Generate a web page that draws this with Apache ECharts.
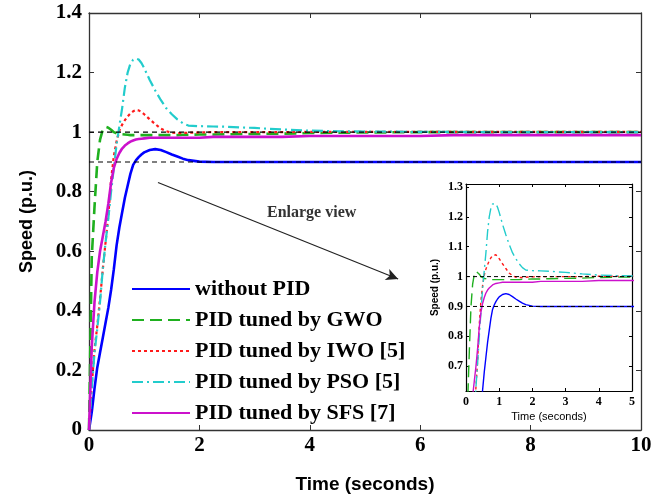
<!DOCTYPE html>
<html><head><meta charset="utf-8">
<script src="https://cdn.jsdelivr.net/npm/echarts@6/dist/echarts.min.js"></script>
<style>html,body{margin:0;padding:0;background:#fff}#c{width:665px;height:499px}</style>
</head><body><div id="c"></div>
<script>
const time = [0,0.05,0.1,0.15,0.2,0.25,0.3,0.35,0.4,0.45,0.5,0.55,0.6,0.65,0.7,0.75,0.8,0.85,0.9,0.95,1.0,1.1,1.2,1.3,1.4,1.5,1.6,1.7,1.8,2.0,2.25,2.5,3.0,3.5,4.0,4.5,5.0,6.0,6.6,7.0,8.0,9.0,10.0];
const withoutPID = [0,0.06,0.14,0.21,0.26,0.31,0.36,0.41,0.47,0.54,0.62,0.68,0.73,0.78,0.82,0.86,0.89,0.905,0.916,0.925,0.932,0.94,0.943,0.94,0.933,0.925,0.918,0.911,0.906,0.901,0.9,0.9,0.9,0.9,0.9,0.9,0.9,0.9,0.9,0.9,0.9,0.9,0.9];
const gwo = [0,0.58,0.75,0.9,0.975,1.008,1.018,1.015,1.008,1.0,0.996,0.994,0.993,0.992,0.991,0.99,0.99,0.99,0.99,0.99,0.99,0.99,0.99,0.99,0.99,0.99,0.99,0.991,0.991,0.992,0.992,0.993,0.994,0.995,0.997,0.998,0.999,1.0,1.0,1.0,1.0,1.0,1.0];
const iwo = [0,0.15,0.27,0.35,0.44,0.54,0.63,0.72,0.84,0.92,0.97,1.005,1.025,1.04,1.053,1.063,1.07,1.074,1.073,1.068,1.06,1.043,1.027,1.012,1.003,0.998,0.997,0.997,0.998,0.999,1.0,1.0,1.0,1.0,1.001,1.001,1.001,1.001,1.001,1.001,1.001,1.001,1.001];
const pso = [0,0.14,0.26,0.34,0.43,0.54,0.63,0.71,0.8,0.88,0.96,1.02,1.08,1.15,1.2,1.23,1.243,1.247,1.244,1.232,1.215,1.175,1.14,1.108,1.08,1.06,1.043,1.03,1.022,1.02,1.019,1.018,1.014,1.009,1.005,1.003,1.002,1.001,1.001,1.0,1.0,1.0,1.0];
const sfs = [0,0.28,0.43,0.53,0.6,0.65,0.7,0.76,0.83,0.88,0.91,0.93,0.945,0.955,0.962,0.968,0.972,0.975,0.977,0.978,0.979,0.981,0.981,0.981,0.981,0.981,0.981,0.981,0.981,0.981,0.984,0.984,0.984,0.984,0.987,0.987,0.987,0.987,0.99,0.99,0.99,0.99,0.99];
const refLevels = [1.0, 0.9];
const seriesNames = ['without PID','PID tuned by GWO','PID tuned by IWO [5]','PID tuned by PSO [5]','PID tuned by SFS [7]'];
const insetYTicks = [0.7,0.8,0.9,1.0,1.1,1.2,1.3];

const pairs = arr => time.map((t,i)=>[t,arr[i]]);
const serif = 'Liberation Serif';
const sans = 'Liberation Sans';
const styles = [
  {color:'#0000ff', type:'solid', w:2.6, wi:1.4},
  {color:'#1fb01f', type:[12,6], w:2.6, wi:1.4},
  {color:'#ff1a1a', type:[3,3], w:2.2, wi:1.4},
  {color:'#22cccc', type:[11,4,2,4], w:2.2, wi:1.4},
  {color:'#cc11cc', type:'solid', w:2.6, wi:1.4}
];
const dataSets = [withoutPID, gwo, iwo, pso, sfs];

function ax(grid, pos, show, extra, inset){
  const col = inset ? '#000' : '#333';
  return Object.assign({type:'value', gridIndex:grid, position:pos,
    axisLine:{show:true, onZero:false, lineStyle:{color:col, width:inset?1.2:1.3}},
    splitLine:{show:false},
    axisTick:{show:true, inside:true, length:inset?3:5, lineStyle:{color:col}},
    axisLabel:{show:show}}, extra);
}

const series = [];
dataSets.forEach((d,i)=>{
  series.push({name:seriesNames[i], type:'line', xAxisIndex:0, yAxisIndex:0, data:pairs(d), showSymbol:false, symbol:'none',
    lineStyle:{color:styles[i].color, type:styles[i].type, width:styles[i].w}, itemStyle:{color:styles[i].color}, z:3, animation:false});
});
dataSets.forEach((d,i)=>{
  series.push({name:seriesNames[i], type:'line', xAxisIndex:2, yAxisIndex:2, data:pairs(d), showSymbol:false, symbol:'none',
    lineStyle:{color:styles[i].color, type:styles[i].type, width:styles[i].wi}, itemStyle:{color:styles[i].color}, z:3, animation:false});
});
refLevels.forEach((v,k)=>{
  series.push({type:'line', xAxisIndex:0, yAxisIndex:0, data:[[0,v],[10,v]], symbol:'none', silent:true, z:4,
    lineStyle:{color:'#000', width:1.1, type:[5,4]}, animation:false,
    markLine: k===0 ? {silent:true, symbol:['none','arrow'], symbolSize:[9,12], animation:false,
      lineStyle:{color:'#222', width:1.2, type:'solid'}, label:{show:false},
      data:[[{coord:[1.25,0.831]},{coord:[5.6,0.507]}]]} : undefined});
  series.push({type:'line', xAxisIndex:2, yAxisIndex:2, data:[[0,v],[5,v]], symbol:'none', silent:true, z:4,
    lineStyle:{color:'#000', width:1, type:[4,3]}, animation:false});
});

const chart = echarts.init(document.getElementById('c'), null, {renderer:'canvas'});
chart.setOption({
  animation:false,
  backgroundColor:'#fff',
  grid:[
    {left:89, right:24, top:13, bottom:63, containLabel:false},
    {left:466, right:33, top:184, bottom:108, containLabel:false}
  ],
  legend:{orient:'vertical', left:131, top:278, padding:0, itemWidth:58, itemHeight:14, itemGap:9,
    data:seriesNames, selectedMode:false, itemStyle:{opacity:0},
    textStyle:{fontFamily:serif, fontWeight:'bold', fontSize:22, color:'#000', lineHeight:22}},
  xAxis:[
    ax(0,'bottom',true,{min:0,max:10,interval:2, name:'Time (seconds)', nameLocation:'middle', nameGap:45,
      nameTextStyle:{fontFamily:sans, fontWeight:'bold', fontSize:19, color:'#000'},
      axisLabel:{show:true, fontFamily:serif, fontWeight:'bold', fontSize:21, color:'#000', margin:5}}),
    ax(0,'top',false,{min:0,max:10,interval:2}),
    ax(1,'bottom',true,{min:0,max:5,interval:1, name:'Time (seconds)', nameLocation:'middle', nameGap:20,
      nameTextStyle:{fontFamily:sans, fontSize:11, color:'#000'},
      axisLabel:{show:true, fontFamily:serif, fontWeight:'bold', fontSize:12, color:'#000', margin:5}}, true),
    ax(1,'top',false,{min:0,max:5,interval:1}, true)
  ],
  yAxis:[
    ax(0,'left',true,{min:0,max:1.4,interval:0.2, name:'Speed (p.u.)', nameLocation:'middle', nameGap:53, nameRotate:90,
      nameTextStyle:{fontFamily:sans, fontWeight:'bold', fontSize:18, color:'#000'},
      axisLabel:{show:true, fontFamily:serif, fontWeight:'bold', fontSize:21, color:'#000', margin:7}}),
    ax(0,'right',false,{min:0,max:1.4,interval:0.2}),
    ax(1,'left',true,{min:0.617,max:1.31, name:'Speed (p.u.)', nameLocation:'middle', nameGap:26, nameRotate:90,
      nameTextStyle:{fontFamily:sans, fontWeight:'bold', fontSize:10, color:'#000'},
      axisTick:{show:true, inside:true, length:3, lineStyle:{color:'#000'}, customValues:insetYTicks},
      axisLabel:{show:true, fontFamily:serif, fontWeight:'bold', fontSize:12, color:'#000', margin:3, customValues:insetYTicks,
        formatter:v=>String(Math.round(v*10)/10)}}, true),
    ax(1,'right',false,{min:0.617,max:1.31,
      axisTick:{show:true, inside:true, length:3, lineStyle:{color:'#000'}, customValues:insetYTicks}}, true)
  ],
  graphic:[
    {type:'text', left:267, top:205, z:10, style:{text:'Enlarge view', fontFamily:serif, fontWeight:'bold', fontSize:16, fill:'#333'}}
  ],
  series
});
</script></body></html>
